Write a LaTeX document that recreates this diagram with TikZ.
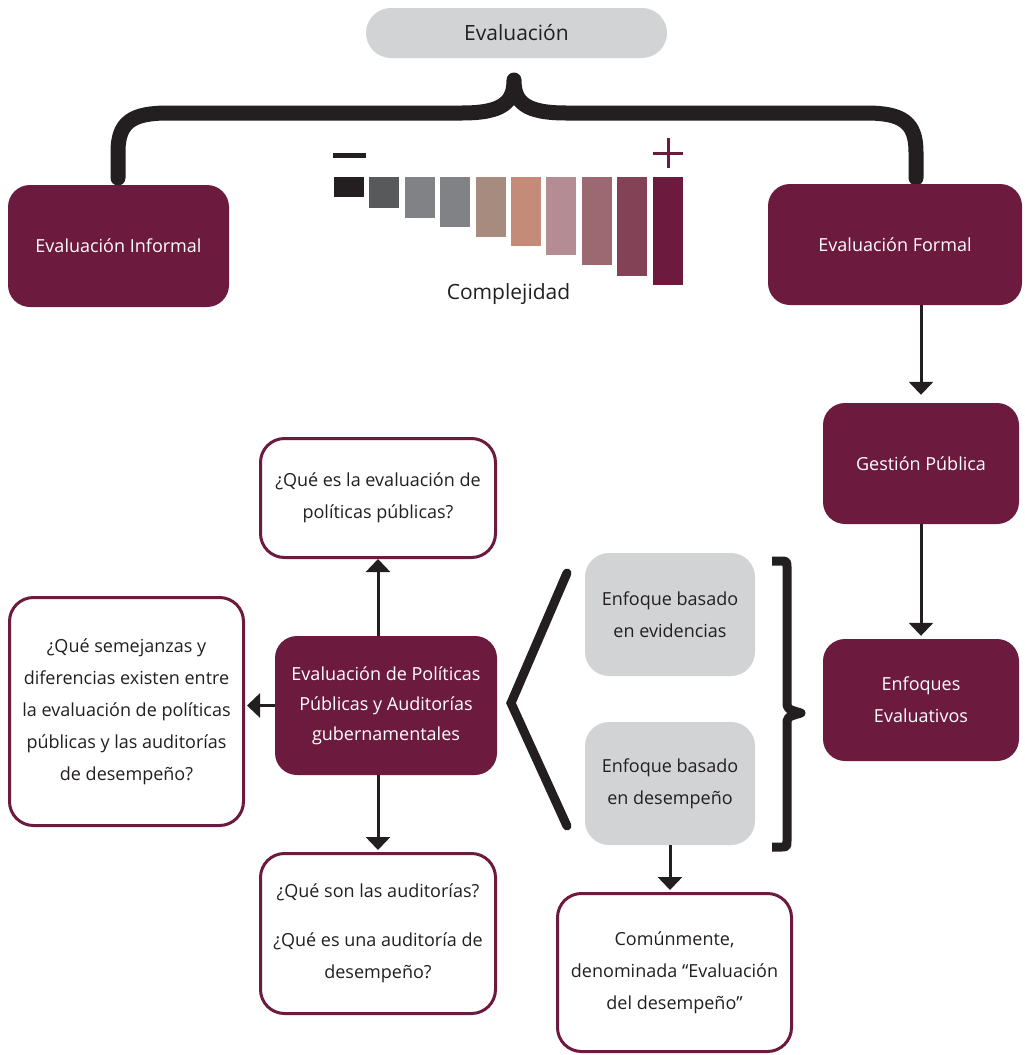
\documentclass[tikz,border=0pt]{standalone}
\usepackage{fontspec}
\setmainfont{Open Sans}
\usetikzlibrary{arrows.meta}
\definecolor{maroon}{HTML}{6D1A3F}
\definecolor{ink}{HTML}{231F20}
\definecolor{lightgrey}{HTML}{D1D3D4}
% complexity scale, light to dark
\definecolor{cplxA}{HTML}{231F20}
\definecolor{cplxB}{HTML}{58595B}
\definecolor{cplxC}{HTML}{808285}
\definecolor{cplxD}{HTML}{808285}
\definecolor{cplxE}{HTML}{A68B7E}
\definecolor{cplxF}{HTML}{C48B78}
\definecolor{cplxG}{HTML}{B48D94}
\definecolor{cplxH}{HTML}{9C6871}
\definecolor{cplxI}{HTML}{844256}
\definecolor{cplxJ}{HTML}{6D1A3F}

\begin{document}
\begin{tikzpicture}[x=1pt, y=-1pt, >={Triangle[width=24pt,length=13pt]},
  every node/.style={font=\fontsize{18}{32}\selectfont, text=ink, align=center, inner sep=0pt},
  solidbox/.style={fill=maroon, text=white, rounded corners=22pt},
  askbox/.style={draw=maroon, line width=3pt, fill=white, rounded corners=24pt},
  greybox/.style={fill=lightgrey, rounded corners=24pt},
  flow/.style={->, draw=ink, line width=3pt}]
  \useasboundingbox (0,0) rectangle (1025,1055);
  % Top pill
  \node[greybox, rounded corners=25pt, minimum width=301pt, minimum height=50pt,
        font=\fontsize{21}{24}\selectfont] (eval) at (516.5,33) {Evaluación};
  % Big brace under the pill
  \draw[ink, line width=15pt, line cap=round, line join=round]
    (118,178) -- (118,152) .. controls (118,122) and (132,113) .. (168,113)
    -- (462,113) .. controls (503,113) and (514,102) .. (514,80)
    .. controls (514,102) and (525,113) .. (566,113)
    -- (866,113) .. controls (902,113) and (916,122) .. (916,152) -- (916,178);
  % Informal and formal evaluation
  \node[solidbox, minimum width=221pt, minimum height=122pt] (informal) at (118.5,246) {Evaluación Informal};
  \node[solidbox, minimum width=254pt, minimum height=121pt] (formal) at (895,244.5) {Evaluación Formal};
  % Complexity scale
  \foreach \i/\b/\c in {0/197/cplxA, 1/208/cplxB, 2/218/cplxC, 3/227/cplxD, 4/237/cplxE,
                        5/246/cplxF, 6/255/cplxG, 7/265/cplxH, 8/276/cplxI, 9/285/cplxJ} {
    \fill[\c] ({334+\i*35.4},177) rectangle ({364+\i*35.4},\b);
  }
  \draw[ink, line width=5pt] (333,155) -- (366,155);
  \draw[maroon, line width=3pt] (653,153) -- (683,153) (668,138) -- (668,168);
  \node[font=\fontsize{21}{24}\selectfont] (cplx) at (508.5,294) {Complejidad};
  % Right column
  \node[solidbox, minimum width=196pt, minimum height=121pt] (gestion) at (921,463.5) {Gestión Pública};
  \node[solidbox, minimum width=196pt, minimum height=122pt] (enfoques) at (921,700) {Enfoques\\Evaluativos};
  \draw[flow, shorten >=8pt] (formal.south -| gestion.north) -- (gestion.north);
  \draw[flow, shorten >=3pt] (gestion.south) -- (enfoques.north);
  % Central node and its questions
  \node[solidbox, minimum width=222pt, minimum height=139pt, font=\fontsize{18}{30}\selectfont] (epp) at (386,705.5)
    {Evaluación de Políticas\\Públicas y Auditorías\\gubernamentales};
  \node[askbox, minimum width=235pt, minimum height=119pt] (qdef) at (378,498)
    {¿Qué es la evaluación de\\políticas públicas?};
  \node[askbox, minimum width=234pt, minimum height=228pt] (qcomp) at (126.5,711.5)
    {¿Qué semejanzas y\\diferencias existen entre\\la evaluación de políticas\\públicas y las auditorías\\de desempeño?};
  \node[askbox, minimum width=235pt, minimum height=160pt] (qaud) at (378,933.5)
    {¿Qué son las auditorías?\\[17pt]¿Qué es una auditoría de\\desempeño?};
  \draw[flow] (epp.north -| qdef.south) -- (qdef.south);
  \draw[flow, shorten >=2pt] (epp.west) -- (epp.west -| qcomp.east);
  \draw[flow, shorten >=2pt] (epp.south -| qaud.north) -- (qaud.north);
  % Approaches
  \node[greybox, minimum width=170pt, minimum height=123pt] (evid) at (670,614.5) {Enfoque basado\\en evidencias};
  \node[greybox, minimum width=170pt, minimum height=123pt] (desemp) at (670,783.5) {Enfoque basado\\en desempeño};
  \draw[ink, line width=9pt, line cap=round] (567,573) -- (511,703) -- (567,826);
  \draw[ink, line width=9pt, line join=round]
    (772,561) -- (780,561) .. controls (787,561) .. (787,568) -- (787,701)
    .. controls (787,709) .. (801,713) .. controls (787,717) .. (787,725)
    -- (787,841) .. controls (787,847) .. (780,847) -- (772,847);
  \node[askbox, minimum width=234pt, minimum height=158pt] (comun) at (674.5,972.5)
    {Comúnmente,\\denominada “Evaluación\\del desempeño”};
  \draw[flow, shorten >=2pt] (desemp.south) -- (desemp.south |- comun.north);
\end{tikzpicture}
\end{document}
